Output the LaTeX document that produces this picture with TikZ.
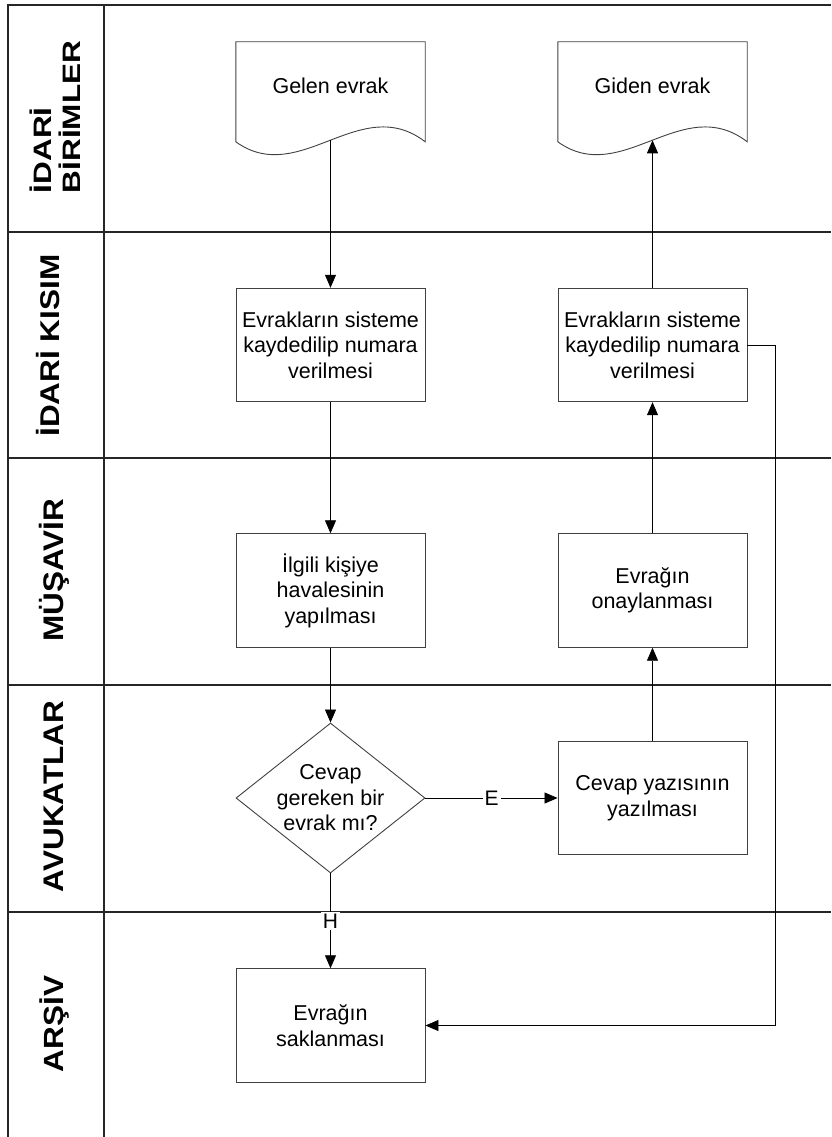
\documentclass[tikz,border=0pt]{standalone}
\usepackage{fontspec}
\setmainfont{Liberation Sans}
\usepackage{graphicx}
\usetikzlibrary{arrows.meta,shapes.geometric,calc}

\begin{document}
\begin{tikzpicture}[x=1pt,y=-1pt,
  lane/.style={draw=black!85,line width=1.3pt},
  lanelabel/.style={rotate=90,anchor=base,inner sep=0pt,
    font=\bfseries\fontsize{31.5}{33}\selectfont},
  boxtext/.style={align=center,font=\fontsize{21.5}{25.5}\selectfont},
  procbox/.style={boxtext,draw=black!75,line width=0.9pt,
    minimum width=189pt,minimum height=113.5pt,inner sep=2pt},
  docnode/.style={boxtext,minimum width=189pt,minimum height=88pt,inner sep=0pt},
  docline/.style={draw=black!75,line width=0.9pt},
  decision/.style={boxtext,diamond,draw=black!75,line width=0.9pt,
    minimum width=189pt,minimum height=150pt,shape aspect=1.26,inner sep=-6pt},
  conn/.style={draw=black,line width=0.8pt,-{Triangle[length=13pt,width=11pt]}},
  flowlabel/.style={fill=white,inner sep=2pt,font=\fontsize{21}{23}\selectfont}
]
\useasboundingbox (0,0) rectangle (831,1137);

% swimlane grid
\draw[lane] (831,5) -- (8,5) -- (8,1137);
\draw[lane] (104,5) -- (104,1137);
\foreach \y in {232,458,685,912} \draw[lane] (8,\y) -- (831,\y);

% lane titles
\node[lanelabel,anchor=center] (lidari) at (59,117)
  {\scalebox{1}[0.8]{\begin{tabular}{@{}l@{}}İDARİ\\BİRİMLER\end{tabular}}};
\node[lanelabel] (lkisim) at (59,345.5) {\scalebox{1}[0.86]{İDARİ KISIM}};
\node[lanelabel] (lmusavir) at (63,570.5) {\scalebox{1}[0.9]{MÜŞAVİR}};
\node[lanelabel] (lavukat) at (63,796.5) {\scalebox{1}[0.9]{AVUKATLAR}};
\node[lanelabel] (larsiv) at (63,1024) {\scalebox{1}[0.88]{ARŞİV}};

% documents
\node[docnode] (gelen) at (330.5,86) {Gelen evrak};
\draw[docline] ($(gelen.north west)+(0,100)$) -- (gelen.north west) -- (gelen.north east)
  -- ($(gelen.north east)+(0,100)$)
  .. controls ($(gelen.north east)+(-65,50)$) and ($(gelen.north west)+(64,146)$)
  .. ($(gelen.north west)+(0,100)$) -- cycle;
\coordinate (gelenw) at ($(gelen.north)+(0,98.5)$);

\node[docnode] (giden) at (652.5,86) {Giden evrak};
\draw[docline] ($(giden.north west)+(0,100)$) -- (giden.north west) -- (giden.north east)
  -- ($(giden.north east)+(0,100)$)
  .. controls ($(giden.north east)+(-65,50)$) and ($(giden.north west)+(64,146)$)
  .. ($(giden.north west)+(0,100)$) -- cycle;
\coordinate (gidenw) at ($(giden.north)+(0,98.5)$);

% process steps
\node[procbox] (kayit1) at (330.5,345) {Evrakların sisteme\\kaydedilip numara\\verilmesi};
\node[procbox] (kayit2) at (652.5,345) {Evrakların sisteme\\kaydedilip numara\\verilmesi};
\node[procbox] (havale) at (330.5,590.5) {İlgili kişiye\\havalesinin\\yapılması};
\node[procbox] (onay) at (652.5,590.5) {Evrağın\\onaylanması};
\node[decision] (karar) at (330.5,798) {Cevap\\gereken bir\\evrak mı?};
\node[procbox] (cevap) at (652.5,798) {Cevap yazısının\\yazılması};
\node[procbox] (sakla) at (330.5,1025.5) {Evrağın\\saklanması};

% flow
\draw[conn] (gelenw) -- (kayit1);
\draw[conn] (kayit1) -- (havale);
\draw[conn] (havale) -- (karar);
\draw[conn] (karar.east) -- node[flowlabel] {E} (cevap.west);
\draw[conn] (karar.south) -- node[flowlabel] {H} (sakla.north);
\draw[conn] (cevap) -- (onay);
\draw[conn] (onay) -- (kayit2);
\draw[conn] (kayit2) -- (gidenw);
\draw[conn] (kayit2.east) -- ++(28,0) |- (sakla.east);
\end{tikzpicture}
\end{document}
